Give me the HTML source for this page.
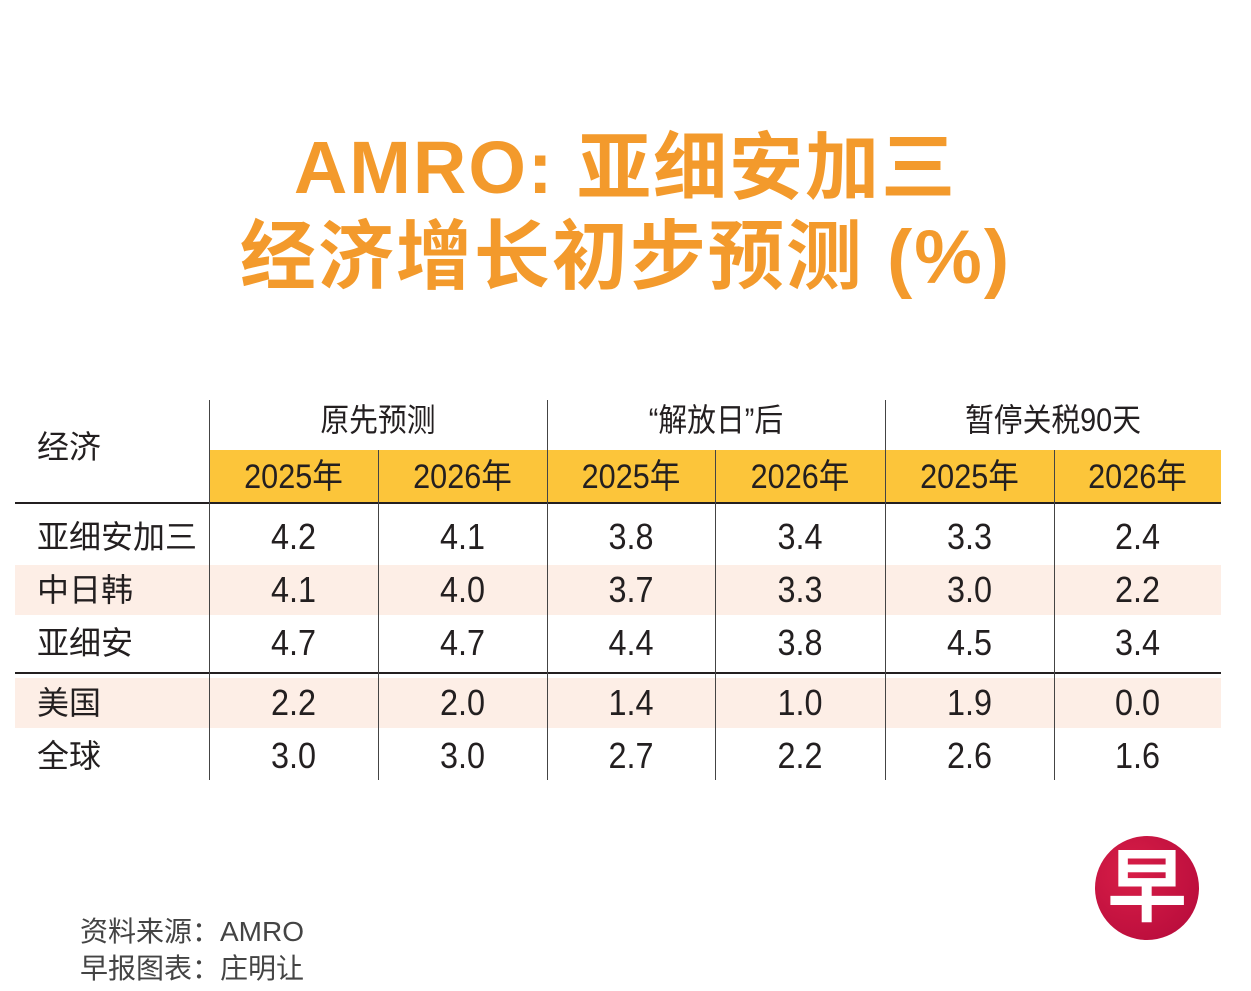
<!DOCTYPE html>
<html><head><meta charset="utf-8">
<style>
body{margin:0;width:1251px;height:991px;background:#fff;position:relative;overflow:hidden;font-family:"Liberation Sans","Noto Sans CJK SC",sans-serif;color:#231f20}
.a{position:absolute}
.t{position:absolute;left:0;width:1251px;text-align:center;color:#f39a2c;font-weight:bold;line-height:80px;font-family:"Liberation Sans","Noto Sans CJK SC",sans-serif}
.c{position:absolute;text-align:center;font-size:34px;line-height:40px;transform:scaleX(0.9)}
.l{position:absolute;font-size:32px;line-height:40px}
</style></head><body>
<div class="t" style="top:128px;font-size:74px;letter-spacing:2px">AMRO: 亚细安加三</div>
<div class="t" style="top:218px;font-size:76px;letter-spacing:2px">经济增长初步预测 (%)</div>
<div id="tbl"></div>
<div class="a" style="left:80px;top:910px;font-size:28px;color:#444">资料来源：AMRO</div>
<div class="a" style="left:80px;top:947px;font-size:28px;color:#444">早报图表：庄明让</div>
<div class="a" style="left:1095px;top:836px;width:104px;height:104px;border-radius:50%;background:radial-gradient(circle at 35% 35%,#d81e47,#b3093a);color:#fff;font-size:80px;line-height:104px;text-align:center;font-weight:bold">早</div>
<script>
const groups=["原先预测","“解放日”后","暂停关税90天"];
const years=["2025年","2026年","2025年","2026年","2025年","2026年"];
const rows=["亚细安加三","中日韩","亚细安","美国","全球"];
const values=[
["4.2","4.1","3.8","3.4","3.3","2.4"],
["4.1","4.0","3.7","3.3","3.0","2.2"],
["4.7","4.7","4.4","3.8","4.5","3.4"],
["2.2","2.0","1.4","1.0","1.9","0.0"],
["3.0","3.0","2.7","2.2","2.6","1.6"]];
const T=document.getElementById('tbl');
const xs=[209,378,547,715,885,1054,1221];
const rowY=[537,590,643,703,756];
function box(st,cls,txt){const d=document.createElement('div');d.className=cls||'a';d.style.cssText=st;if(txt!==undefined)d.textContent=txt;T.appendChild(d);return d;}
[1,3].forEach(i=>{const d=box(`left:15px;width:1206px;top:${rowY[i]-25}px;height:50px;background:#fdeee6`);

});
const y=box('left:209px;width:1012px;top:450px;height:53px;background:#fcc53a');


box('left:15px;width:1206px;top:502px;height:2px;background:#231f20');
box('left:15px;width:1206px;top:672px;height:2px;background:#231f20');
xs.slice(0,6).forEach((x,i)=>{const top=i%2==0?400:450;box(`left:${x}px;width:1px;top:${top}px;height:${780-top}px;background:#444`);});
const h=box('left:37px;top:427px','l','经济');


groups.forEach((g,i)=>{const d=box(`left:${xs[i*2]}px;width:${xs[i*2+2]-xs[i*2]}px;top:400px`,'c',g);d.style.fontSize='32px';

});
years.forEach((t,i)=>{const d=box(`left:${xs[i]}px;width:${xs[i+1]-xs[i]}px;top:457px`,'c',t);

});
rows.forEach((r,ri)=>{const d=box(`left:37px;top:${rowY[ri]-20}px`,'l',r);


values[ri].forEach((v,ci)=>{const c=box(`left:${xs[ci]}px;width:${xs[ci+1]-xs[ci]}px;top:${rowY[ri]-20}px`,'c',v);c.style.fontSize='36px';

});});
</script>
</body></html>
